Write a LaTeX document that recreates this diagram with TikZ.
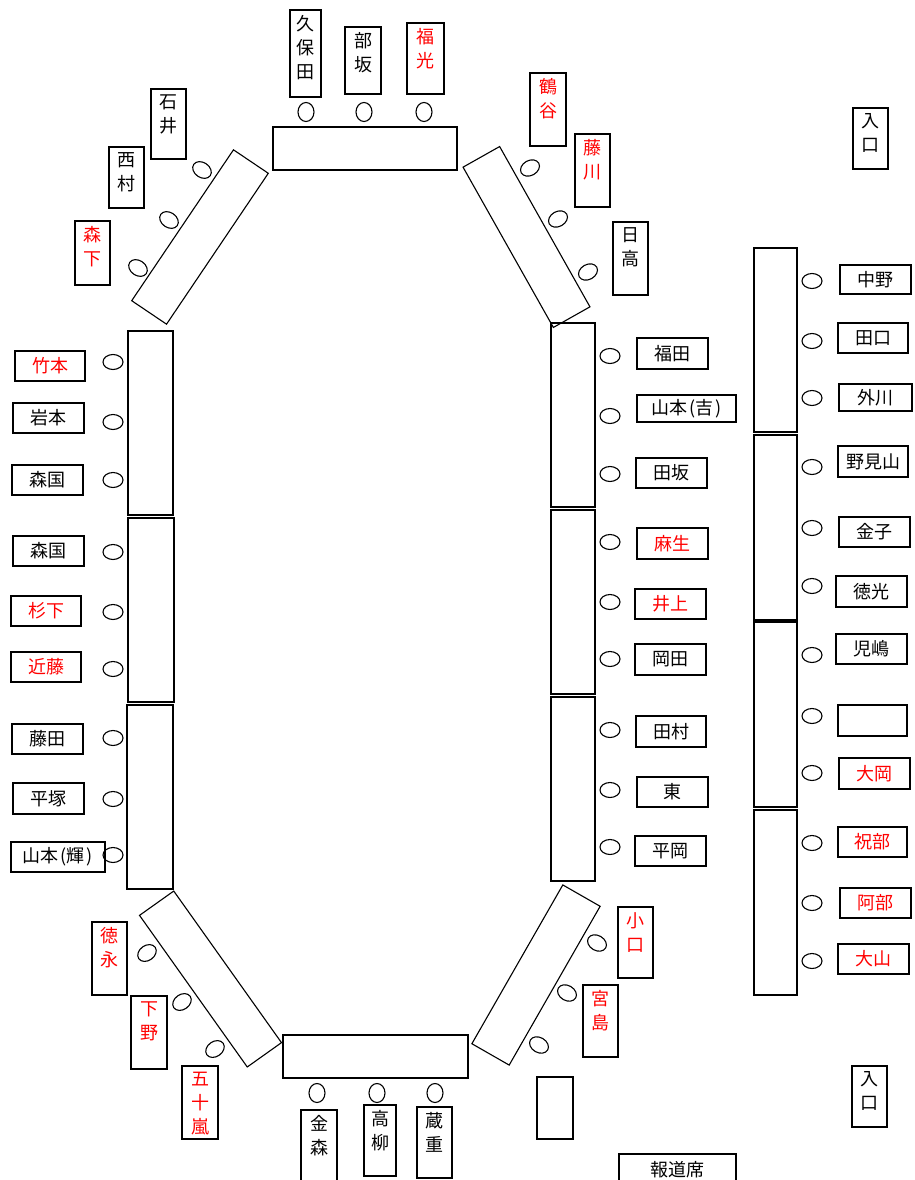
\documentclass[tikz,border=0pt]{standalone}
\usepackage{fontspec}
\setmainfont{Noto Sans CJK JP}
\usetikzlibrary{shapes.geometric}
\newcommand\vnamebox[6][]{%
  \node[vname, minimum width=#4pt, minimum height=#5pt] (#2) at (#3) {};
  \node[vtext,#1] at (#2.north) {#6};}
\begin{document}
\begin{tikzpicture}[x=1pt,y=-1pt,
  every node/.style={font=\fontsize{18}{24}\selectfont},
  tbl/.style={draw, line width=1.1pt, rectangle, inner sep=0pt},
  seat/.style={draw, ellipse, line width=1.1pt, minimum width=20pt, minimum height=15pt, inner sep=0pt},
  vseat/.style={seat, minimum width=16pt, minimum height=19pt},
  hname/.style={draw, line width=1.1pt, rectangle, minimum width=71pt, minimum height=30pt, inner sep=0pt},
  vname/.style={draw, line width=1.1pt, rectangle, inner sep=0pt},
  vtext/.style={anchor=north, align=center, inner xsep=0pt, inner ysep=6pt},
  hot/.style={text=red}]
\useasboundingbox (0,0) rectangle (914,1180);
% ---------- tables
\node[tbl, minimum width=184pt, minimum height=43pt] (ttop) at (365,148.5) {};
\node[tbl, minimum width=185pt, minimum height=43pt] (tbot) at (375.5,1056.5) {};
\node[tbl, minimum width=182pt, minimum height=42pt, rotate=56] (ttl) at (200,237) {};
\node[tbl, minimum width=184pt, minimum height=42pt, rotate=-60.6] (ttr) at (526.5,237) {};
\node[tbl, minimum width=186pt, minimum height=42pt, rotate=-54.6] (tdl) at (210.5,979) {};
\node[tbl, minimum width=183pt, minimum height=43pt, rotate=60.2] (tdr) at (536,975) {};
\node[tbl, minimum width=45pt, minimum height=184pt] (tl1) at (150.5,423) {};
\node[tbl, minimum width=46pt, minimum height=184pt] (tl2) at (151,610) {};
\node[tbl, minimum width=46pt, minimum height=184pt] (tl3) at (150,797) {};
\node[tbl, minimum width=44pt, minimum height=184pt] (tr1) at (573,415) {};
\node[tbl, minimum width=44pt, minimum height=184pt] (tr2) at (573,602) {};
\node[tbl, minimum width=44pt, minimum height=184pt] (tr3) at (573,789) {};
\node[tbl, minimum width=43pt, minimum height=184pt] (tf1) at (775.5,340) {};
\node[tbl, minimum width=43pt, minimum height=185pt] (tf2) at (775.5,527.5) {};
\node[tbl, minimum width=43pt, minimum height=185pt] (tf3) at (775.5,714.5) {};
\node[tbl, minimum width=43pt, minimum height=185pt] (tf4) at (775.5,902.5) {};
\node[tbl, minimum width=36pt, minimum height=62pt] (blankdesk) at (555,1108) {};
% ---------- seats
\foreach \x [count=\i] in {306,364,424} \node[vseat] (st\i) at (\x,112) {};
\foreach \x [count=\i] in {317,377,435} \node[vseat] (sb\i) at (\x,1093) {};
\node[seat, rotate=-34] (sa1) at (202,170) {};
\node[seat, rotate=-34] (sa2) at (169,220) {};
\node[seat, rotate=-34] (sa3) at (138,268) {};
\node[seat, rotate=29] (sc1) at (530,168) {};
\node[seat, rotate=29] (sc2) at (558,219) {};
\node[seat, rotate=29] (sc3) at (588,272) {};
\node[seat, rotate=35] (sd1) at (147,953) {};
\node[seat, rotate=35] (sd2) at (182,1002) {};
\node[seat, rotate=35] (sd3) at (215,1049) {};
\node[seat, rotate=-30] (se1) at (597,943) {};
\node[seat, rotate=-30] (se2) at (567,993) {};
\node[seat, rotate=-30] (se3) at (539,1045) {};
\foreach \y [count=\i] in {362,422,480,552,612,669,738,799,855} \node[seat] (sl\i) at (113,\y) {};
\foreach \y [count=\i] in {356,416,474,542,602,659,730,790,847} \node[seat] (sr\i) at (610,\y) {};
\foreach \y [count=\i] in {281,341,398,467,528,586,655,716,773,843,903,961} \node[seat] (sf\i) at (812,\y) {};
% ---------- vertical name cards
\vnamebox{kubota}{305.5,53.5}{31}{87}{久\\保\\田}
\vnamebox{hesaka}{363,60.5}{36}{67}{部\\坂}
\vnamebox[hot]{fukumitsu}{425.5,58.5}{37}{71}{福\\光}
\vnamebox{ishii}{168.5,124}{35}{70}{石\\井}
\vnamebox{nishimura}{126.5,177.5}{35}{61}{西\\村}
\vnamebox[hot]{morishita}{92.5,253}{35}{64}{森\\下}
\vnamebox[hot]{tsuruya}{548,109.5}{36}{73}{鶴\\谷}
\vnamebox[hot]{fujikawa}{592.5,170.5}{35}{73}{藤\\川}
\vnamebox{hidaka}{630.5,258.5}{35}{73}{日\\高}
\vnamebox{entrytop}{870.5,138.5}{35}{61}{入\\口}
\vnamebox{entrybot}{869.5,1096.5}{35}{61}{入\\口}
\vnamebox[hot]{tokunaga}{109.5,958.5}{35}{73}{徳\\永}
\vnamebox[hot]{shimono}{149,1032.5}{36}{73}{下\\野}
\vnamebox[hot]{igarashi}{200,1102.5}{36}{73}{五\\十\\嵐}
\vnamebox{kanamori}{319,1150}{36}{80}{金\\森}
\vnamebox{takayanagi}{380,1140.5}{32}{71}{高\\柳}
\vnamebox{kurashige}{434.5,1142.5}{35}{71}{蔵\\重}
\vnamebox[hot]{oguchi}{635.5,942.5}{35}{71}{小\\口}
\vnamebox[hot]{miyajima}{600.5,1021}{35}{72}{宮\\島}
\node[hname, minimum width=117pt, minimum height=32pt] (press) at (677.5,1170) {報道席};
% ---------- horizontal name cards, left
\node[hname, hot, minimum width=70pt] (takemoto) at (50,366) {竹本};
\node[hname] (iwamoto) at (48.5,418) {岩本};
\node[hname] (morikuni1) at (47.5,480) {森国};
\node[hname] (morikuni2) at (48.5,551) {森国};
\node[hname, hot, minimum width=70pt] (sugishita) at (46,611) {杉下};
\node[hname, hot, minimum width=70pt] (kondo) at (46,667) {近藤};
\node[hname] (fujita) at (47.5,739) {藤田};
\node[hname, minimum height=31pt] (hiratsuka) at (48.5,798.5) {平塚};
\node[hname, minimum width=94pt] (yamamotoT) at (58,857) {山本\hspace{2pt}(輝\hspace{2pt})};
% ---------- horizontal name cards, inner right
\node[hname, minimum height=31pt] (fukuda) at (672.5,353.5) {福田};
\node[hname, minimum width=99pt, minimum height=27pt] (yamamotoY) at (686.5,408.5) {山本\hspace{2pt}(吉\hspace{2pt})};
\node[hname, minimum width=71pt] (tasaka) at (671.5,473) {田坂};
\node[hname, hot, minimum height=31pt] (aso) at (672.5,543.5) {麻生};
\node[hname, hot] (inoue) at (670.5,604) {井上};
\node[hname, minimum height=31pt] (okada) at (670.5,659.5) {岡田};
\node[hname, minimum width=70pt, minimum height=31pt] (tamura) at (671,731.5) {田村};
\node[hname] (azuma) at (672.5,792) {東};
\node[hname] (hiraoka) at (670.5,851) {平岡};
% ---------- horizontal name cards, far right
\node[hname, minimum height=29pt] (nakano) at (875.5,279.5) {中野};
\node[hname, minimum width=70pt] (taguchi) at (873,338) {田口};
\node[hname, minimum width=73pt, minimum height=27pt] (tonokawa) at (875.5,397.5) {外川};
\node[hname, minimum width=70pt, minimum height=31pt] (nomiyama) at (873,461.5) {野見山};
\node[hname] (kaneko) at (874.5,532) {金子};
\node[hname, minimum height=31pt] (tokumitsu) at (871.5,591.5) {徳光};
\node[hname] (kojima) at (871.5,649) {児嶋};
\node[hname, minimum width=69pt, minimum height=31pt] (emptycard) at (872.5,720.5) {};
\node[hname, hot, minimum height=31pt] (ooka) at (874.5,773.5) {大岡};
\node[hname, hot, minimum width=69pt] (houribe) at (872.5,842) {祝部};
\node[hname, hot] (abe) at (875.5,903) {阿部};
\node[hname, hot] (ooyama) at (873.5,959) {大山};
\end{tikzpicture}
\end{document}
